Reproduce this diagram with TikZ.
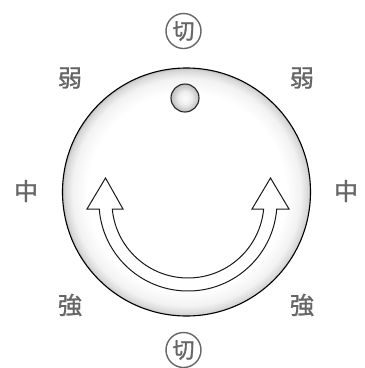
\documentclass[tikz,border=0pt]{standalone}
\usepackage{fontspec}
\newfontfamily\jpfont[FakeBold=1.2]{Noto Sans CJK JP}
\definecolor{labelgray}{HTML}{666666}
\pgfdeclareradialshading{knobface}{\pgfpoint{0bp}{0bp}}{color(0bp)=(white); color(20bp)=(white); color(23bp)=(black!5); color(24.6bp)=(black!16); color(25bp)=(black!26); color(50bp)=(black!26)}
\pgfdeclareradialshading{knobdot}{\pgfpoint{0bp}{0bp}}{color(0bp)=(black!1); color(12bp)=(black!7); color(25bp)=(black!26); color(50bp)=(black!26)}
\tikzset{speed/.style={anchor=center,inner sep=1pt,text=labelgray,font=\jpfont\fontsize{24}{25}\selectfont},
  offmark/.style={circle,draw=labelgray,line width=1.4pt,minimum size=35pt,inner sep=0pt,text=labelgray,font=\jpfont\fontsize{22}{23}\selectfont}}

\begin{document}
\begin{tikzpicture}[x=1pt,y=-1pt]
\path[use as bounding box] (0,0) rectangle (365,368);
\draw[line width=1.1pt,shading=knobface] (186.5,192) circle[radius=124];
\draw[line width=1.1pt,black!85,shading=knobdot] (185,98) circle[radius=14];
\filldraw[fill=white,draw=black!90,line width=1pt,line join=miter] (105.5,178) -- (123,209) -- (112.3,209) arc[start angle=174.7,end angle=5.3,radius=76] -- (252,209) -- (270.5,178) -- (289,209) -- (276.7,209) arc[start angle=4.5,end angle=175.5,radius=89] -- (87,209) -- cycle;
\node[offmark] (off top) at (183.5,31) {切};
\node[offmark] (off bottom) at (183.5,350) {切};
\node[speed] (low left) at (70,78) {弱};
\node[speed] (low right) at (302,78) {弱};
\node[speed] (mid left) at (26,191) {中};
\node[speed] (mid right) at (346,191) {中};
\node[speed] (high left) at (70,305) {強};
\node[speed] (high right) at (302,305) {強};
\end{tikzpicture}
\end{document}
